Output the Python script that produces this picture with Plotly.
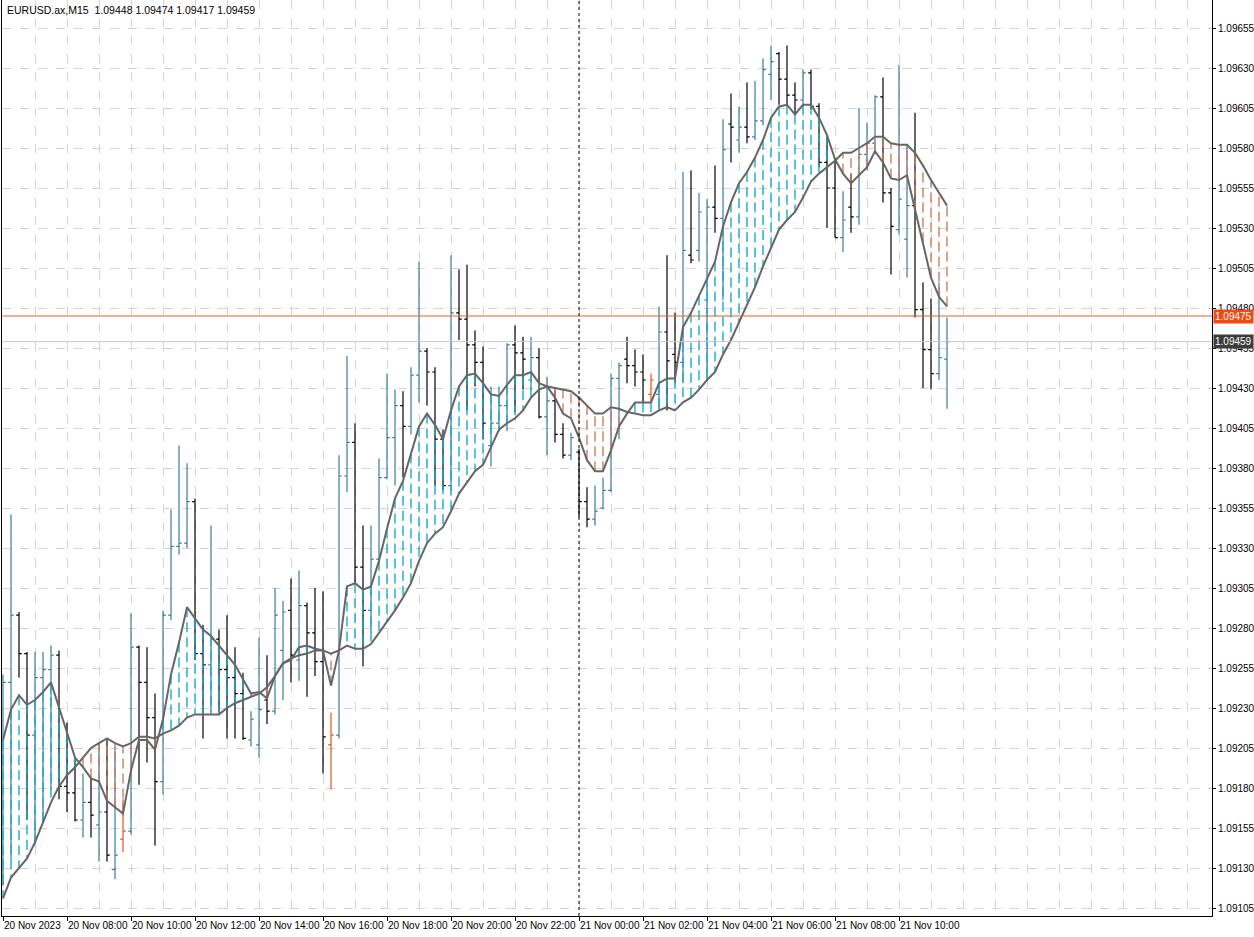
import plotly.graph_objects as go

title_text = "EURUSD.ax,M15  1.09448 1.09474 1.09417 1.09459"

open_ = [1.09135,1.09246,1.09288,1.09264,1.09213,1.09249,1.09254,1.09263,1.09181,1.09177,
         1.09160,1.09171,1.09157,1.09165,1.09129,1.09148,1.09153,1.09268,1.09246,1.09224,
         1.09184,1.09288,1.09331,1.09333,1.09359,1.09264,1.09257,1.09273,1.09254,1.09249,
         1.09239,1.09210,1.09207,1.09235,1.09228,1.09266,1.09291,1.09260,1.09294,1.09277,
         1.09259,1.09207,1.09213,1.09375,1.09396,1.09318,1.09291,1.09323,1.09374,1.09399,
         1.09419,1.09406,1.09438,1.09453,1.09440,1.09398,1.09369,1.09477,1.09473,1.09457,
         1.09446,1.09394,1.09408,1.09419,1.09457,1.09452,1.09435,1.09449,1.09412,1.09422,
         1.09401,1.09388,1.09390,1.09359,1.09348,1.09355,1.09366,1.09436,1.09448,1.09444,
         1.09440,1.09426,1.09426,1.09465,1.09451,1.09446,1.09513,1.09516,1.09485,1.09543,
         1.09536,1.09595,1.09585,1.09593,1.09587,1.09597,1.09626,1.09639,1.09623,1.09613,
         1.09610,1.09627,1.09606,1.09571,1.09555,1.09524,1.09543,1.09537,1.09576,1.09583,
         1.09612,1.09552,1.09529,1.09523,1.09544,1.09479,1.09454,1.09439,1.09448]
high = [1.09251,1.09351,1.09290,1.09265,1.09265,1.09265,1.09269,1.09266,1.09221,1.09198,
        1.09189,1.09186,1.09208,1.09211,1.09206,1.09173,1.09289,1.09269,1.09268,1.09239,
        1.09291,1.09354,1.09394,1.09383,1.09361,1.09282,1.09344,1.09279,1.09288,1.09268,
        1.09252,1.09228,1.09274,1.09263,1.09305,1.09297,1.09311,1.09316,1.09296,1.09305,
        1.09303,1.09227,1.09388,1.09450,1.09408,1.09344,1.09344,1.09386,1.09439,1.09429,
        1.09428,1.09443,1.09509,1.09455,1.09443,1.09404,1.09513,1.09504,1.09507,1.09466,
        1.09456,1.09431,1.09431,1.09458,1.09469,1.09462,1.09462,1.09455,1.09437,1.09429,
        1.09408,1.09402,1.09392,1.09368,1.09369,1.09374,1.09439,1.09446,1.09462,1.09454,
        1.09451,1.09439,1.09481,1.09513,1.09477,1.09565,1.09566,1.09552,1.09548,1.09569,
        1.09598,1.09614,1.09606,1.09621,1.09622,1.09636,1.09644,1.09640,1.09644,1.09621,
        1.09629,1.09629,1.09608,1.09587,1.09574,1.09553,1.09564,1.09605,1.09596,1.09613,
        1.09624,1.09555,1.09632,1.09582,1.09602,1.09496,1.09486,1.09496,1.09474]
low = [1.09119,1.09135,1.09249,1.09160,1.09144,1.09158,1.09179,1.09173,1.09165,1.09159,
       1.09149,1.09149,1.09134,1.09134,1.09123,1.09140,1.09151,1.09182,1.09196,1.09144,
       1.09176,1.09285,1.09326,1.09330,1.09260,1.09211,1.09227,1.09227,1.09211,1.09211,
       1.09210,1.09206,1.09199,1.09220,1.09226,1.09235,1.09246,1.09247,1.09237,1.09250,
       1.09189,1.09179,1.09211,1.09365,1.09308,1.09256,1.09277,1.09319,1.09373,1.09369,
       1.09374,1.09401,1.09421,1.09419,1.09369,1.09366,1.09366,1.09460,1.09416,1.09431,
       1.09398,1.09381,1.09403,1.09403,1.09415,1.09429,1.09429,1.09411,1.09388,1.09396,
       1.09386,1.09385,1.09349,1.09343,1.09344,1.09354,1.09365,1.09398,1.09433,1.09431,
       1.09421,1.09421,1.09416,1.09416,1.09433,1.09433,1.09508,1.09509,1.09435,1.09527,
       1.09485,1.09571,1.09577,1.09583,1.09585,1.09594,1.09610,1.09607,1.09607,1.09601,
       1.09606,1.09604,1.09568,1.09530,1.09524,1.09515,1.09527,1.09532,1.09566,1.09579,
       1.09546,1.09501,1.09526,1.09499,1.09474,1.09430,1.09429,1.09435,1.09417]
close = [1.09246,1.09288,1.09264,1.09213,1.09249,1.09254,1.09263,1.09181,1.09177,1.09160,
         1.09171,1.09163,1.09165,1.09138,1.09138,1.09153,1.09268,1.09246,1.09224,1.09184,
         1.09288,1.09331,1.09333,1.09359,1.09264,1.09257,1.09273,1.09254,1.09249,1.09239,
         1.09211,1.09223,1.09229,1.09228,1.09288,1.09290,1.09263,1.09294,1.09277,1.09259,
         1.09212,1.09213,1.09375,1.09396,1.09318,1.09291,1.09323,1.09374,1.09399,1.09419,
         1.09406,1.09438,1.09453,1.09440,1.09398,1.09369,1.09477,1.09473,1.09457,1.09446,
         1.09408,1.09408,1.09419,1.09457,1.09452,1.09448,1.09449,1.09412,1.09422,1.09401,
         1.09388,1.09399,1.09359,1.09348,1.09353,1.09366,1.09436,1.09444,1.09444,1.09440,
         1.09435,1.09435,1.09465,1.09447,1.09446,1.09516,1.09510,1.09540,1.09543,1.09536,
         1.09579,1.09593,1.09593,1.09587,1.09597,1.09629,1.09634,1.09623,1.09613,1.09610,
         1.09627,1.09606,1.09571,1.09555,1.09524,1.09535,1.09537,1.09576,1.09583,1.09612,
         1.09552,1.09531,1.09548,1.09544,1.09479,1.09454,1.09439,1.09449,1.09459]
special_bars = [15, 41, 81]

fast_line = [1.09210,1.09229,1.09238,1.09232,1.09235,1.09240,1.09246,1.09230,1.09214,1.09199,
             1.09193,1.09186,1.09184,1.09172,1.09168,1.09164,1.09191,1.09210,1.09210,1.09204,
             1.09223,1.09251,1.09271,1.09293,1.09286,1.09279,1.09275,1.09269,1.09263,1.09257,
             1.09248,1.09239,1.09240,1.09236,1.09250,1.09258,1.09260,1.09268,1.09269,1.09267,
             1.09266,1.09244,1.09266,1.09306,1.09308,1.09304,1.09306,1.09322,1.09342,1.09361,
             1.09372,1.09389,1.09406,1.09414,1.09407,1.09398,1.09416,1.09431,1.09438,1.09439,
             1.09433,1.09426,1.09425,1.09432,1.09438,1.09438,1.09440,1.09433,1.09431,1.09424,
             1.09414,1.09411,1.09399,1.09385,1.09378,1.09378,1.09391,1.09406,1.09414,1.09421,
             1.09421,1.09421,1.09433,1.09436,1.09436,1.09468,1.09477,1.09488,1.09499,1.09509,
             1.09531,1.09546,1.09558,1.09565,1.09574,1.09585,1.09599,1.09606,1.09607,1.09601,
             1.09607,1.09607,1.09599,1.09588,1.09573,1.09564,1.09558,1.09563,1.09568,1.09578,
             1.09571,1.09561,1.09560,1.09563,1.09541,1.09521,1.09499,1.09487,1.09481]
slow_line = [1.09111,1.09124,1.09130,1.09136,1.09146,1.09158,1.09171,1.09181,1.09188,1.09193,
             1.09199,1.09205,1.09208,1.09211,1.09208,1.09206,1.09208,1.09212,1.09212,1.09211,
             1.09214,1.09216,1.09219,1.09224,1.09226,1.09226,1.09226,1.09226,1.09230,1.09233,
             1.09235,1.09237,1.09239,1.09243,1.09250,1.09258,1.09261,1.09263,1.09264,1.09266,
             1.09266,1.09264,1.09266,1.09269,1.09267,1.09267,1.09270,1.09277,1.09284,1.09291,
             1.09299,1.09308,1.09322,1.09333,1.09339,1.09343,1.09353,1.09364,1.09371,1.09378,
             1.09382,1.09393,1.09404,1.09408,1.09411,1.09416,1.09424,1.09429,1.09431,1.09430,
             1.09429,1.09428,1.09424,1.09419,1.09414,1.09414,1.09418,1.09417,1.09415,1.09414,
             1.09413,1.09413,1.09416,1.09418,1.09416,1.09421,1.09424,1.09429,1.09435,1.09440,
             1.09451,1.09460,1.09471,1.09481,1.09493,1.09506,1.09518,1.09529,1.09535,1.09540,
             1.09549,1.09559,1.09564,1.09568,1.09572,1.09577,1.09577,1.09580,1.09583,1.09587,
             1.09587,1.09583,1.09582,1.09582,1.09577,1.09569,1.09560,1.09552,1.09544]

x_labels = ["20 Nov 2023","20 Nov 08:00","20 Nov 10:00","20 Nov 12:00","20 Nov 14:00",
            "20 Nov 16:00","20 Nov 18:00","20 Nov 20:00","20 Nov 22:00","21 Nov 00:00",
            "21 Nov 02:00","21 Nov 04:00","21 Nov 06:00","21 Nov 08:00","21 Nov 10:00"]
label_step = 8
ask_price = 1.09475
bid_price = 1.09459
separator_bar = 72

n = len(close)
idx = list(range(n))
FONT = "Liberation Sans"

fig = go.Figure()

up_x, up_y, dn_x, dn_y = [], [], [], []
for i in idx:
    if fast_line[i] >= slow_line[i]:
        up_x += [i, i, None]; up_y += [fast_line[i], slow_line[i], None]
    else:
        dn_x += [i, i, None]; dn_y += [fast_line[i], slow_line[i], None]
fig.add_trace(go.Scatter(x=up_x, y=up_y, mode="lines",
                         line=dict(color="#17adc4", width=1.4, dash="10px,5px")))
fig.add_trace(go.Scatter(x=dn_x, y=dn_y, mode="lines",
                         line=dict(color="#c77e60", width=1.4, dash="10px,5px")))

def sub(sel):
    return dict(x=[i for i in sel], open=[open_[i] for i in sel], high=[high[i] for i in sel],
                low=[low[i] for i in sel], close=[close[i] for i in sel])

up_i = [i for i in idx if close[i] >= open_[i] and i not in special_bars]
dn_i = [i for i in idx if close[i] < open_[i] and i not in special_bars]
for sel, col in [(up_i, "#3f7b9a"), (dn_i, "#000000"), (special_bars, "#e0561e")]:
    fig.add_trace(go.Ohlc(**sub(sel), tickwidth=0.35,
                          increasing=dict(line=dict(color=col, width=1.2)),
                          decreasing=dict(line=dict(color=col, width=1.2))))

fig.add_trace(go.Scatter(x=idx, y=slow_line, mode="lines", line=dict(color="#666666", width=2)))
fig.add_trace(go.Scatter(x=idx, y=fast_line, mode="lines", line=dict(color="#666666", width=2)))

fig.add_hline(y=ask_price, line=dict(color="#e0622a", width=1))
fig.add_hline(y=bid_price, line=dict(color="#c8c8c8", width=1))
fig.add_vline(x=separator_bar, line=dict(color="#000000", width=1, dash="dot"))

fig.add_annotation(x=1, xref="paper", y=ask_price, yref="y", text=format(ask_price, ".5f"),
                   xanchor="left", showarrow=False, bgcolor="#f04a12",
                   font=dict(color="white", size=10, family=FONT), borderpad=1, xshift=1)
fig.add_annotation(x=1, xref="paper", y=bid_price, yref="y", text=format(bid_price, ".5f"),
                   xanchor="left", showarrow=False, bgcolor="#3c3c3c",
                   font=dict(color="white", size=10, family=FONT), borderpad=1, xshift=1)
fig.add_annotation(x=0, xref="paper", y=1, yref="paper", text=title_text, xanchor="left",
                   yanchor="top", showarrow=False, xshift=3, yshift=-2,
                   font=dict(color="#000000", size=10.5, family=FONT))

tickvals = [i * label_step for i in range(len(x_labels))]
fig.update_layout(
    width=1254, height=937, margin=dict(l=2, r=42, t=0, b=21),
    paper_bgcolor="white", plot_bgcolor="white", showlegend=False,
    font=dict(family=FONT, size=10, color="#000000"),
    hovermode=False,
    xaxis=dict(range=[-0.125, 151.125], rangeslider=dict(visible=False),
               tickvals=tickvals, ticktext=x_labels, ticklabelposition="outside right",
               tickangle=0, automargin=False,
               ticks="outside", ticklen=4, tickcolor="#000000",
               showgrid=True, gridcolor="#d4d4d4", griddash="dash",
               minor=dict(dtick=4, tick0=0, showgrid=True, gridcolor="#d4d4d4", griddash="dash"),
               showline=True, linecolor="#000000", zeroline=False, fixedrange=True),
    yaxis=dict(range=[1.09100, 1.096725], side="right", tick0=1.09105, dtick=0.00025,
               tickformat=".5f", ticks="outside", ticklen=3, tickcolor="#000000",
               automargin=False,
               showgrid=True, gridcolor="#d4d4d4", griddash="dash",
               showline=True, mirror=True, linecolor="#000000", zeroline=False),
)

fig.write_html("out.html", config={"displayModeBar": False},
               post_script="document.body.style.margin='0px';document.body.style.overflow='hidden';")
